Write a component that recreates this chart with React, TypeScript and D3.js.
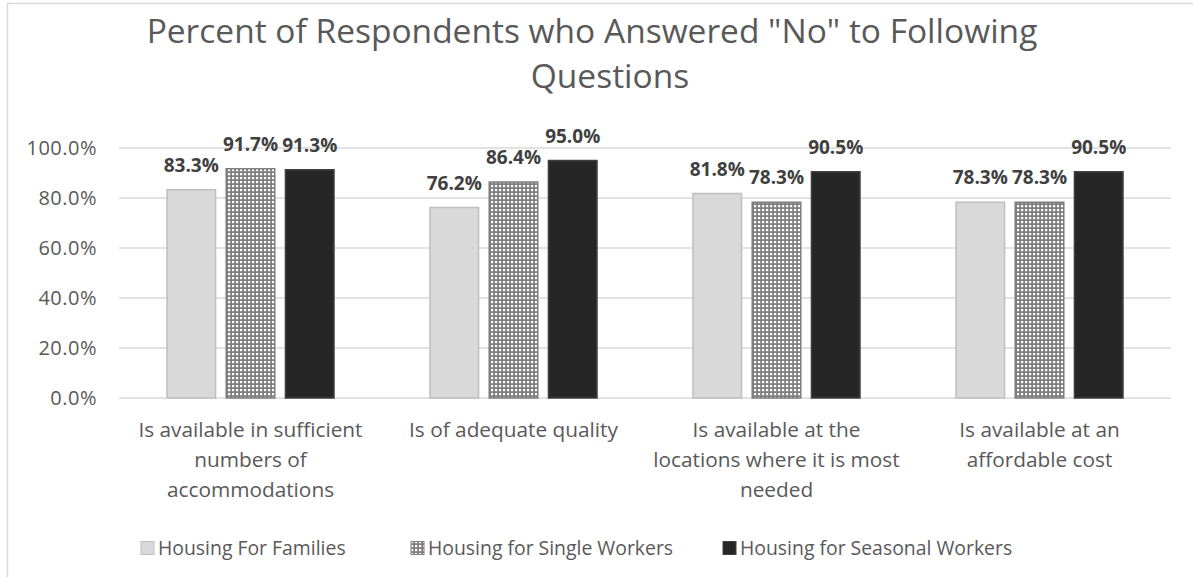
import * as d3 from 'd3';

const categories = [
  'Is available in sufficient numbers of accommodations',
  'Is of adequate quality',
  'Is available at the locations where it is most needed',
  'Is available at an affordable cost',
];
const categoryLines = [
  ['Is available in sufficient', 'numbers of', 'accommodations'],
  ['Is of adequate quality'],
  ['Is available at the', 'locations where it is most', 'needed'],
  ['Is available at an', 'affordable cost'],
];
const seriesNames = [
  'Housing For Families',
  'Housing for Single Workers',
  'Housing for Seasonal Workers',
];
const families = [83.3, 76.2, 81.8, 78.3];
const singleWorkers = [91.7, 86.4, 78.3, 78.3];
const seasonalWorkers = [91.3, 95.0, 90.5, 90.5];
const yTicks = [0, 20, 40, 60, 80, 100];

const W = 1193;
const H = 577;
const FONT = '"Open Sans", "DejaVu Sans", sans-serif';

export default function App() {
  const margin = { top: 148, right: 22, bottom: 179, left: 119 };
  const innerW = W - margin.left - margin.right;
  const innerH = H - margin.top - margin.bottom;

  const series = [families, singleWorkers, seasonalWorkers];
  const fills = ['#d9d9d9', 'url(#dots)', '#262626'];
  const strokes = ['#bfbfbf', '#7f7f7f', '#404040'];

  const x0 = d3.scaleBand<string>().domain(categories).range([0, innerW]);
  const x1 = d3
    .scaleBand<number>()
    .domain([0, 1, 2])
    .range([48, x0.bandwidth() - 48])
    .paddingInner(0.18);
  const y = d3.scaleLinear().domain([0, 100]).range([innerH, 0]);
  const fmt = (v: number) => `${v.toFixed(1)}%`;

  // legend layout
  const legendX = [140, 410, 722];

  return (
    <svg
      width={W}
      height={H}
      style={{ position: 'absolute', left: 0, top: 0, background: '#fff' }}
      fontFamily={FONT}
    >
      <defs>
        <pattern id="dots" width={4} height={4} patternUnits="userSpaceOnUse">
          <rect width={4} height={4} fill="#7f7f7f" />
          <rect x={1} y={1} width={2.2} height={2.2} fill="#ffffff" />
        </pattern>
      </defs>

      {/* chart border */}
      <rect x={7.5} y={3.5} width={W} height={H} fill="none" stroke="#d9d9d9" strokeWidth={1.5} />

      <text x={592} y={43} textAnchor="middle" fontSize={33.5} fill="#595959">
        Percent of Respondents who Answered "No" to Following
      </text>
      <text x={610} y={88} textAnchor="middle" fontSize={33.5} fill="#595959">
        Questions
      </text>

      <g transform={`translate(${margin.left},${margin.top})`}>
        {yTicks.map((t) => (
          <g key={t}>
            <line x1={0} x2={innerW} y1={y(t)} y2={y(t)} stroke="#d9d9d9" strokeWidth={1.3} />
            <text
              x={-22}
              y={y(t)}
              dy="0.36em"
              textAnchor="end"
              fontSize={20}
              letterSpacing={0.5}
              fill="#595959"
            >
              {fmt(t)}
            </text>
          </g>
        ))}

        {categories.map((c, ci) => (
          <g key={c} transform={`translate(${x0(c)},0)`}>
            {series.map((s, si) => (
              <g key={si}>
                <rect
                  x={x1(si)}
                  y={y(s[ci])}
                  width={x1.bandwidth()}
                  height={innerH - y(s[ci])}
                  fill={fills[si]}
                  stroke={strokes[si]}
                  strokeWidth={1.5}
                />
                <text
                  x={(x1(si) ?? 0) + x1.bandwidth() / 2}
                  y={y(s[ci]) - 18}
                  textAnchor="middle"
                  fontSize={19}
                  fontWeight="bold"
                  fill="#404040"
                >
                  {fmt(s[ci])}
                </text>
              </g>
            ))}
            {categoryLines[ci].map((line, li) => (
              <text
                key={li}
                x={x0.bandwidth() / 2}
                y={innerH + 39 + li * 30}
                textAnchor="middle"
                fontSize={20.8}
                fill="#595959"
              >
                {line}
              </text>
            ))}
          </g>
        ))}
      </g>

      {seriesNames.map((n, i) => (
        <g key={n} transform={`translate(${legendX[i]},548)`}>
          <rect x={1} y={-6.5} width={13} height={13} fill={fills[i]} stroke={strokes[i]} strokeWidth={1} />
          <text x={18} y={0} dy="0.36em" fontSize={19.4} fill="#595959">
            {n}
          </text>
        </g>
      ))}
    </svg>
  );
}
